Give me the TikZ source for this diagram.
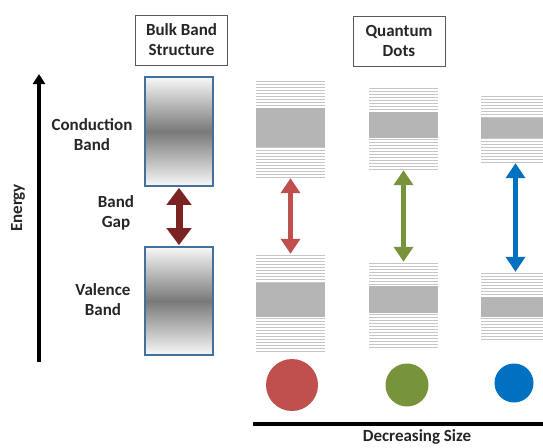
\documentclass[tikz,border=0pt]{standalone}
\usepackage{fontspec}
\setmainfont{Carlito}
\usepackage{xcolor}
\usetikzlibrary{arrows.meta,positioning}

\definecolor{bandblue}{HTML}{41719C}
\definecolor{gapred}{HTML}{7B2222}
\definecolor{dotred}{HTML}{C0504D}
\definecolor{dotgreen}{HTML}{77933C}
\definecolor{dotblue}{HTML}{0070C0}

\begin{document}
\begin{tikzpicture}[x=1pt, y=-1pt, >=Triangle, font=\fontsize{17}{20}\selectfont\bfseries]
  % ------- styles -------
  \tikzstyle{label}=[text=black!85, align=center, inner sep=1pt]
  \tikzstyle{title}=[label, draw=black!65, line width=1pt, minimum width=92pt, minimum height=50pt]
  \tikzstyle{bulk}=[draw=bandblue, line width=1.6pt, minimum width=68pt, top color=gray!6, bottom color=gray!6, middle color=gray!95!black, inner sep=0pt]
  \tikzstyle{levels}=[minimum width=69pt, inner sep=0pt, path picture={
      \foreach \k in {0,...,40}
        \draw[gray!45, line width=1.4pt] ([yshift=-\k*3pt-0.7pt]path picture bounding box.north west) -- ([yshift=-\k*3pt-0.7pt]path picture bounding box.north east);}]
  \tikzstyle{core}=[fill=gray!58, minimum width=69pt, inner sep=0pt]
  \tikzstyle{gap}=[{Triangle[width=19pt, length=15pt]}-{Triangle[width=19pt, length=15pt]}, line width=5pt, shorten <=1pt, shorten >=1pt]
  \tikzstyle{dot}=[circle, inner sep=0pt]

  \useasboundingbox (0,0) rectangle (543,447);

  % ------- energy axis -------
  \coordinate (ebot) at (39,362);
  \coordinate (etop) at (39,74);
  \draw[-{Triangle[width=12pt, length=10pt]}, line width=3.5pt] (ebot) -- (etop);
  \node[label, rotate=90] (energy) at (18,208) {Energy};

  % ------- bulk band structure -------
  \node[title] (bulktitle) at (181.5,40) {Bulk Band\\Structure};
  \node[bulk, minimum height=109pt] (bulkcb) at (179,131.5) {};
  \node[bulk, minimum height=108pt] (bulkvb) at (179,301) {};
  \draw[gap, gapred, line width=7pt, {Triangle[width=24pt, length=17pt]}-{Triangle[width=24pt, length=17pt]}] (bulkcb.south) -- (bulkvb.north);

  \node[label] (cblabel) at (92,135) {Conduction\\Band};
  \node[label] (gaplabel) at (116,213) {Band\\Gap};
  \node[label] (vblabel) at (103,300) {Valence\\Band};

  % ------- quantum dots -------
  \node[title] (qdtitle) at (399,41) {Quantum\\Dots};

  % dot 1 (large)
  \node[levels, minimum height=96pt] (qd1cb) at (290.5,129) {};
  \node[core, minimum height=39pt] (qd1cbcore) at (290.5,127.5) {};
  \node[levels, minimum height=97pt] (qd1vb) at (290.5,303.5) {};
  \node[core, minimum height=34pt] (qd1vbcore) at (290.5,300) {};
  \draw[gap, dotred] (qd1cb.south) -- (qd1vb.north);
  \node[dot, fill=dotred, minimum size=52pt] (dot1) at (292,385) {};

  % dot 2 (medium)
  \node[levels, minimum height=81pt] (qd2cb) at (403.5,128.5) {};
  \node[core, minimum height=26pt] (qd2cbcore) at (403.5,125) {};
  \node[levels, minimum height=85pt] (qd2vb) at (403.5,305.5) {};
  \node[core, minimum height=27pt] (qd2vbcore) at (403.5,299.5) {};
  \draw[gap, dotgreen] (qd2cb.south) -- (qd2vb.north);
  \node[dot, fill=dotgreen, minimum size=43pt] (dot2) at (407,385) {};

  % dot 3 (small)
  \node[levels, minimum height=66pt] (qd3cb) at (515.5,129) {};
  \node[core, minimum height=20pt] (qd3cbcore) at (515.5,128) {};
  \node[levels, minimum height=67pt] (qd3vb) at (515.5,306.5) {};
  \node[core, minimum height=20pt] (qd3vbcore) at (515.5,307) {};
  \draw[gap, dotblue] (qd3cb.south) -- (qd3vb.north);
  \node[dot, fill=dotblue, minimum size=39pt] (dot3) at (514,383) {};

  % ------- size axis -------
  \coordinate (sleft) at (253,424);
  \coordinate (sright) at (545,424);
  \draw[line width=4pt] (sleft) -- (sright);
  \node[label] (sizelabel) at (417,437) {Decreasing Size};

\end{tikzpicture}
\end{document}
